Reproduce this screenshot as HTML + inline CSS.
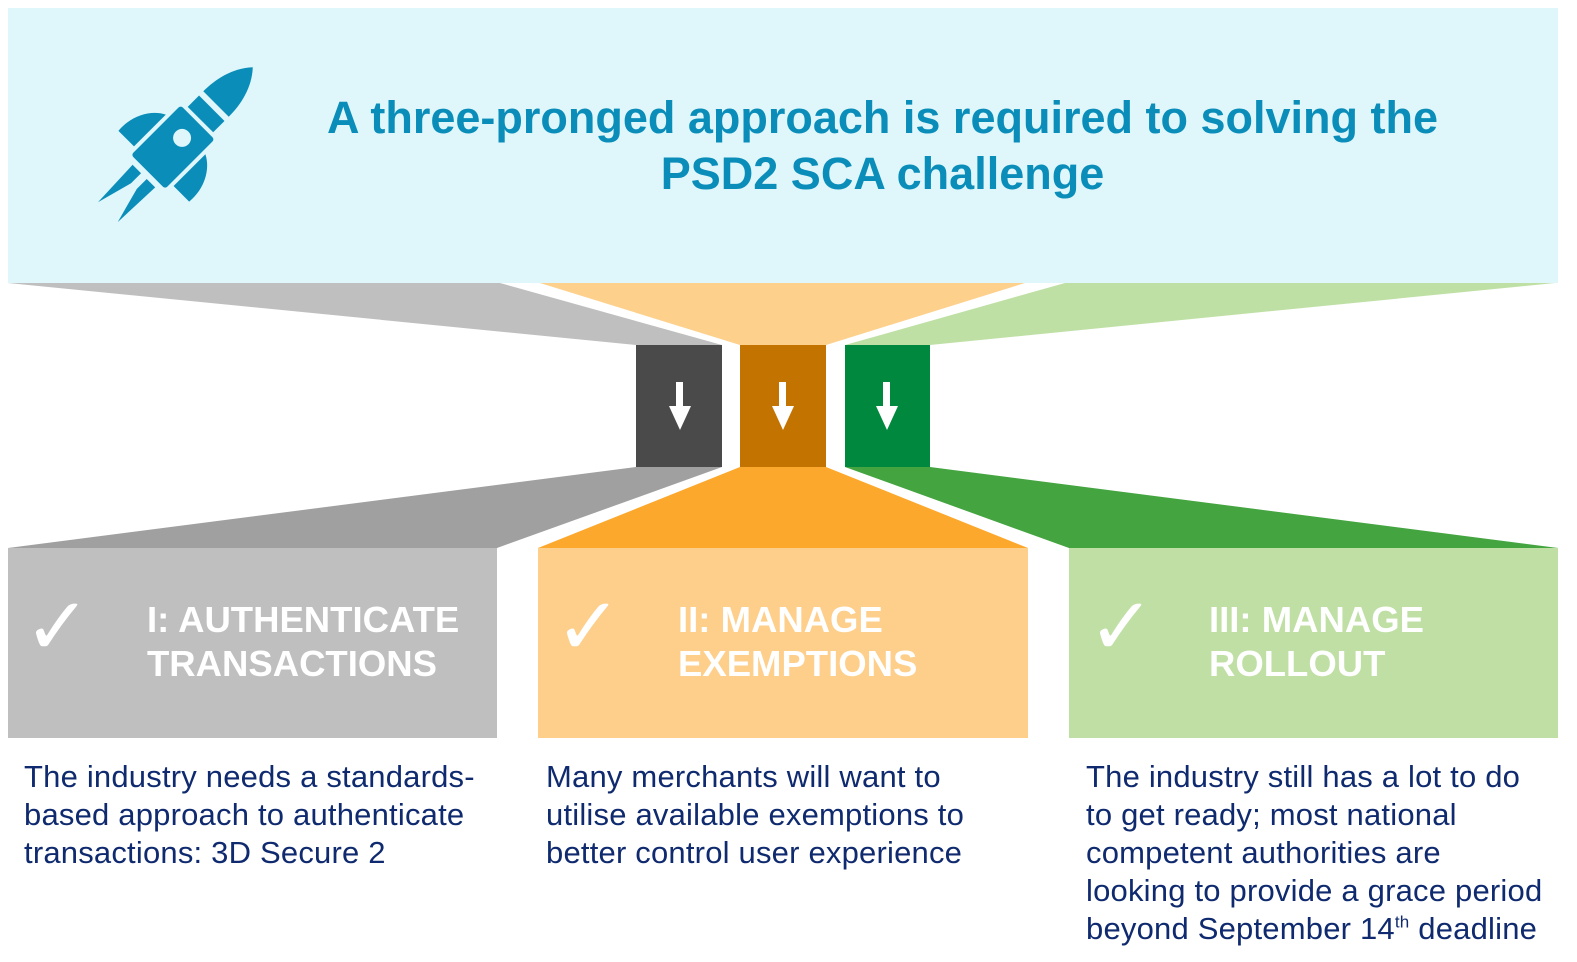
<!DOCTYPE html>
<html><head><meta charset="utf-8"><style>
body{margin:0;width:1577px;height:962px;background:#fff;position:relative;overflow:hidden;font-family:"Liberation Sans",Arial,sans-serif}
.title{position:absolute;left:280px;width:1205px;top:90px;text-align:center;color:#0b8dba;font-weight:bold;font-size:45px;line-height:56px}
.card{position:absolute;top:598px;color:#fff;font-weight:bold;font-size:36.5px;line-height:44px}
.chk{position:absolute;top:582px;color:#fff;font-size:80px;line-height:90px}
.body{position:absolute;top:758px;color:#0f2a6e;font-size:31px;line-height:38px;letter-spacing:0.2px}
</style></head><body>
<svg width="1577" height="962" style="position:absolute;left:0;top:0">
<rect x="8" y="8" width="1550" height="275" fill="#dff7fb"/>
<polygon points="8,283 500,283 722,345 636,345" fill="#bfbfbf"/>
<polygon points="540,283 1025,283 826,345 740,345" fill="#fdd08c"/>
<polygon points="1065,283 1555,283 930,345 845,345" fill="#bfe0a5"/>
<rect x="636" y="345" width="86" height="122" fill="#4a4a4a"/>
<rect x="740" y="345" width="86" height="122" fill="#c37400"/>
<rect x="845" y="345" width="85" height="122" fill="#00893e"/>
<polygon points="636,467 722,467 497,548 8,548" fill="#a0a0a0"/>
<polygon points="740,467 826,467 1028,548 538,548" fill="#fba82c"/>
<polygon points="845,467 930,467 1558,548 1069,548" fill="#44a440"/>
<rect x="8" y="548" width="489" height="190" fill="#bfbfbf"/>
<rect x="538" y="548" width="490" height="190" fill="#fdcf8b"/>
<rect x="1069" y="548" width="489" height="190" fill="#bfdfa4"/>
<g fill="#fff">
<rect x="676" y="382" width="7" height="28"/><polygon points="669,406 691,406 680,430"/>
<rect x="779" y="382" width="7" height="28"/><polygon points="772,406 794,406 783,430"/>
<rect x="883" y="382" width="7" height="28"/><polygon points="876,406 898,406 887,430"/>
</g>
<g transform="translate(175,145) rotate(45)" fill="#0b8dba">
<path d="M0,-110 C14,-95 18,-75 18,-58 L-18,-58 C-18,-75 -14,-95 0,-110 Z"/>
<rect x="-18" y="-52" width="36" height="16"/>
<rect x="-24" y="-32" width="48" height="70" rx="3"/>
<circle cx="0" cy="-10" r="9" fill="#dff7fb"/>
<path d="M-28,-15 L-28,30 L-50,30 C-52,10 -42,-8 -28,-15Z"/>
<path d="M28,-15 L28,30 L50,30 C52,10 42,-8 28,-15Z"/>
<polygon points="-16,44 -4,44 -4,58 -14,95"/>
<polygon points="16,44 4,44 4,58 14,95"/>
</g>
</svg>
<div class="title">A three-pronged approach is required to solving the<br>PSD2 SCA challenge</div>
<div class="chk" style="left:24px">✓</div>
<div class="chk" style="left:555px">✓</div>
<div class="chk" style="left:1088px">✓</div>
<div class="card" style="left:147px">I: AUTHENTICATE<br>TRANSACTIONS</div>
<div class="card" style="left:678px">II: MANAGE<br>EXEMPTIONS</div>
<div class="card" style="left:1209px">III: MANAGE<br>ROLLOUT</div>
<div class="body" style="left:24px">The industry needs a standards-<br>based approach to authenticate<br>transactions: 3D Secure 2</div>
<div class="body" style="left:546px">Many merchants will want to<br>utilise available exemptions to<br>better control user experience</div>
<div class="body" style="left:1086px">The industry still has a lot to do<br>to get ready; most national<br>competent authorities are<br>looking to provide a grace period<br>beyond September 14<sup style="font-size:17px;line-height:0">th</sup> deadline</div>
</body></html>
